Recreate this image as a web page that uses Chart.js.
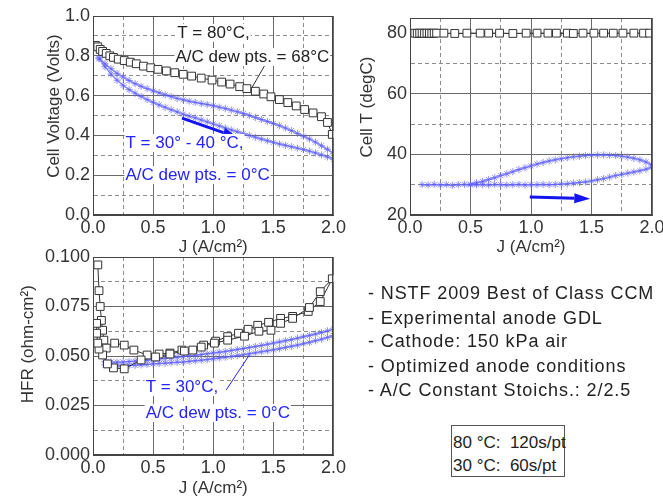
<!DOCTYPE html>
<html>
<head>
<meta charset="utf-8">
<script src="https://cdn.jsdelivr.net/npm/chart.js@4.4.0/dist/chart.umd.min.js"></script>
<style>
  html, body { margin: 0; padding: 0; background: #fff; overflow: hidden; width: 663px; height: 497px; }
  canvas { position: absolute; }
  .note { position: absolute; left: 368px; font: 18px "Liberation Sans", Arial, sans-serif; letter-spacing: 0.9px; color: #222; line-height: 18px; white-space: pre; }
  #box { position: absolute; left: 451px; top: 425px; width: 112px; height: 50px; border: 1px solid #555; }
  .boxline { position: absolute; left: 1px; font: 17px "Liberation Sans", Arial, sans-serif; line-height: 17px; color: #222; white-space: pre; }
</style>
</head>
<body>
<canvas id="cv" width="348" height="258" style="left:0;top:0"></canvas>
<canvas id="ct" width="325" height="258" style="left:345px;top:0"></canvas>
<canvas id="ch" width="348" height="258" style="left:0;top:240px"></canvas>
<div class="note" style="top:284px">- NSTF 2009 Best of Class CCM</div>
<div class="note" style="top:309px">- Experimental anode GDL</div>
<div class="note" style="top:332px">- Cathode: 150 kPa air</div>
<div class="note" style="top:357px">- Optimized anode conditions</div>
<div class="note" style="top:381px">- A/C Constant Stoichs.: 2/2.5</div>
<div id="box">
  <div class="boxline" style="top:8px">80 °C:  120s/pt</div>
  <div class="boxline" style="top:31px">30 °C:  60s/pt</div>
</div>
<script>
// 30-40 C run (blue), current density grid shared by both scan directions
const jBlue = [0.05,0.10,0.15,0.20,0.25,0.30,0.35,0.40,0.45,0.50,0.55,0.60,0.65,0.70,0.75,0.80,0.85,0.90,0.95,1.00,
               1.05,1.10,1.15,1.20,1.25,1.30,1.35,1.40,1.45,1.50,1.55,1.60,1.65,1.70,1.75,1.80,1.85,1.90,1.95,2.00];
const vBlueHi = [0.790,0.760,0.735,0.712,0.693,0.676,0.660,0.647,0.635,0.624,0.614,0.604,0.595,0.586,0.579,0.572,0.566,0.560,0.555,0.549,
                 0.542,0.535,0.527,0.519,0.510,0.500,0.490,0.480,0.470,0.460,0.449,0.437,0.424,0.410,0.396,0.382,0.366,0.348,0.330,0.308];
const vBlueLo = [0.785,0.745,0.708,0.677,0.652,0.630,0.612,0.596,0.580,0.566,0.553,0.541,0.529,0.518,0.507,0.497,0.488,0.478,0.468,0.458,
                 0.448,0.437,0.427,0.418,0.409,0.400,0.391,0.382,0.373,0.365,0.357,0.350,0.343,0.336,0.329,0.321,0.312,0.302,0.292,0.280];
const tBlueLo = [null,30.0,29.9,30.1,29.9,30.0,29.8,30.0,30.1,29.9,30.0,30.0,29.9,30.1,30.0,29.9,30.0,30.1,29.9,30.0,
                 30.0,30.1,30.0,30.1,30.2,30.3,30.5,30.7,30.9,31.2,31.6,32.0,32.5,33.0,33.4,33.8,34.2,34.6,35.1,35.8];
const tBlueHi = [null,null,null,null,null,null,null,null,null,30.2,30.6,31.1,31.7,32.3,33.0,33.6,34.3,35.0,35.6,36.2,
                 36.8,37.3,37.8,38.2,38.6,38.9,39.2,39.4,39.6,39.7,39.8,39.8,39.7,39.6,39.4,39.1,38.7,38.2,37.5,36.5];
const hBlueLo = [null,0.0455,0.0452,0.0450,0.0450,0.0452,0.0453,0.0455,0.0457,0.0460,0.0462,0.0464,0.0466,0.0468,0.0470,0.0473,0.0476,0.0479,0.0482,0.0486,
                 0.0490,0.0494,0.0498,0.0502,0.0506,0.0511,0.0516,0.0521,0.0526,0.0531,0.0537,0.0543,0.0549,0.0555,0.0562,0.0569,0.0577,0.0585,0.0594,0.0603];
const hBlueHi = [null,0.0472,0.0470,0.0469,0.0470,0.0472,0.0474,0.0476,0.0479,0.0482,0.0485,0.0488,0.0491,0.0494,0.0497,0.0500,0.0503,0.0507,0.0511,0.0515,
                 0.0519,0.0523,0.0528,0.0533,0.0538,0.0543,0.0548,0.0553,0.0559,0.0565,0.0571,0.0577,0.0583,0.0590,0.0597,0.0604,0.0611,0.0619,0.0627,0.0636];

// 80 C run (black squares)
const vHotJ = [0.02,0.04,0.06,0.08,0.11,0.14,0.17,0.21,0.26,0.31,0.36,0.42,0.48,0.54,0.61,0.68,0.75,0.82,0.90,0.99,
               1.07,1.14,1.22,1.28,1.35,1.42,1.48,1.55,1.62,1.69,1.76,1.83,1.90,1.95,1.99];
const vHot = [0.852,0.845,0.832,0.822,0.812,0.800,0.792,0.783,0.776,0.768,0.760,0.748,0.740,0.732,0.724,0.715,0.707,0.698,0.688,0.678,
              0.668,0.658,0.645,0.635,0.622,0.608,0.594,0.580,0.565,0.548,0.530,0.513,0.494,0.465,0.405];
const tHotJ = [0.04,0.06,0.08,0.10,0.12,0.14,0.16,0.18,0.20,0.22,0.28,0.37,0.47,0.58,0.65,0.74,0.85,0.96,1.05,1.14,
               1.21,1.30,1.35,1.43,1.52,1.60,1.68,1.76,1.85,1.93,1.98];
const tHot = [80.0,79.9,80.0,80.0,79.9,80.0,80.0,79.9,80.0,80.0,80.0,79.9,80.0,80.0,80.0,80.0,79.9,80.0,80.0,80.0,
              80.0,80.0,79.9,80.0,80.0,80.0,80.0,80.0,80.0,80.0,80.0];
const hHotJ = [0.04,0.05,0.06,0.07,0.08,0.09,0.11,0.18,0.26,0.34,0.45,0.55,0.64,0.74,0.83,0.92,1.02,1.12,1.21,1.29,
               1.37,1.46,1.56,1.66,1.79,1.89,1.99,
               1.89,1.80,1.66,1.56,1.48,1.38,1.26,1.12,1.01,0.90,0.76,0.64,0.52,0.40,0.26,0.17,0.12,0.08,0.05,0.04,0.03,0.03];
const hHot = [0.096,0.083,0.075,0.068,0.063,0.058,0.054,0.0565,0.0555,0.053,0.0505,0.051,0.0515,0.053,0.053,0.0555,0.0575,0.0598,0.0615,0.0635,
              0.0655,0.067,0.069,0.070,0.0725,0.0775,0.089,
              0.0825,0.0745,0.069,0.0665,0.063,0.0625,0.060,0.058,0.0565,0.0545,0.0525,0.051,0.0495,0.048,0.0435,0.044,0.046,0.0505,0.0535,0.0565,0.0615,0.0665];

const FONT = '"Liberation Sans", Arial, sans-serif';
const INK = '#333';
const BLUE_TXT = '#2424ff';
const ARROW = '#1414f0';

function pts(xs, ys) { return xs.map((x, i) => ({ x: x, y: ys[i] })); }

function blueSet(xs, ys) {
  return { data: pts(xs, ys), showLine: true, borderColor: 'rgba(70,70,255,0.6)', borderWidth: 1.5,
    pointStyle: 'star', pointRadius: 3.6, pointBorderColor: 'rgba(95,95,255,0.7)', pointBorderWidth: 1 };
}
function blackSet(xs, ys) {
  return { data: pts(xs, ys), showLine: true, borderColor: '#333', borderWidth: 1,
    pointStyle: 'rect', pointRadius: 5.5, pointBackgroundColor: '#fff', pointBorderColor: '#333', pointBorderWidth: 1 };
}

function axis(o) {
  const isMajor = v => Math.abs(v / o.major - Math.round(v / o.major)) < 1e-6;
  return {
    type: 'linear', min: o.min, max: o.max,
    afterFit: s => { if (s.isHorizontal()) s.height = o.size; else s.width = o.size; },
    ticks: { stepSize: o.step, autoSkip: false, maxRotation: 0, padding: o.pad, color: INK,
      includeBounds: o.bounds !== false, font: { family: FONT, size: 18 },
      callback: v => isMajor(v) ? v.toFixed(o.dec) : '' },
    grid: { drawTicks: false, color: c => (c.tick && isMajor(c.tick.value)) ? '#6a6a6a' : '#8c8c8c' },
    border: { color: '#444', dash: c => (!c.tick || isMajor(c.tick.value) || c.tick.value >= o.max) ? [] : [4, 3] },
    title: { display: true, text: o.title, color: INK, font: { family: FONT, size: 17, lineHeight: 1 }, padding: o.tpad }
  };
}

// frame, leader lines, arrows and labels, placed in data units through the chart scales
const overlay = {
  id: 'overlay',
  afterDatasetsDraw(chart, args, opts) {
    const { ctx, chartArea: a, scales } = chart;
    const px = p => [scales.x.getPixelForValue(p[0]), scales.y.getPixelForValue(p[1])];
    ctx.save();
    ctx.strokeStyle = '#444';
    ctx.lineWidth = 1;
    ctx.strokeRect(Math.round(a.left) + 0.5, Math.round(a.top) + 0.5, Math.round(a.width) - 1, Math.round(a.height) - 1);
    (opts.lines || []).forEach(l => {
      const [x0, y0] = px(l.from), [x1, y1] = px(l.to);
      ctx.strokeStyle = l.color; ctx.lineWidth = 1;
      ctx.beginPath(); ctx.moveTo(x0, y0); ctx.lineTo(x1, y1); ctx.stroke();
    });
    (opts.arrows || []).forEach(ar => {
      const [x0, y0] = px(ar.from), [x1, y1] = px(ar.to);
      const ang = Math.atan2(y1 - y0, x1 - x0), hl = 16, hw = 5;
      const bx = x1 - hl * Math.cos(ang), by = y1 - hl * Math.sin(ang);
      ctx.strokeStyle = ar.color; ctx.fillStyle = ar.color; ctx.lineWidth = 3;
      ctx.beginPath(); ctx.moveTo(x0, y0); ctx.lineTo(bx, by); ctx.stroke();
      ctx.beginPath(); ctx.moveTo(x1, y1);
      ctx.lineTo(bx + hw * Math.sin(ang), by - hw * Math.cos(ang));
      ctx.lineTo(bx - hw * Math.sin(ang), by + hw * Math.cos(ang));
      ctx.closePath(); ctx.fill();
    });
    ctx.font = '17px ' + FONT;
    ctx.textAlign = 'left';
    ctx.textBaseline = 'middle';
    (opts.texts || []).forEach(t => {
      const [x, y] = px(t.at);
      const w = ctx.measureText(t.text).width;
      ctx.fillStyle = '#fff';
      ctx.fillRect(x - 1, y - 9, w + 2, 18);
      ctx.fillStyle = t.color;
      ctx.fillText(t.text, x, y);
    });
    ctx.restore();
  }
};

function base(scales, padding, ov) {
  return {
    responsive: false, animation: false,
    layout: { padding: padding },
    plugins: { legend: { display: false }, tooltip: { enabled: false }, overlay: ov },
    scales: scales
  };
}

new Chart(document.getElementById('cv'), {
  type: 'scatter',
  data: { datasets: [blackSet(vHotJ, vHot), blueSet(jBlue, vBlueHi), blueSet(jBlue, vBlueLo)] },
  options: base({
    x: axis({ min: 0, max: 2, step: 0.25, major: 0.5, dec: 1, size: 43, pad: 2, title: 'J (A/cm²)', tpad: { bottom: 2.5 } }),
    y: axis({ min: 0, max: 1, step: 0.1, major: 0.2, dec: 1, size: 93, pad: 3, title: '    Cell Voltage (Volts)', tpad: { top: 45.5 } })
  }, { top: 16, right: 14 }, {
    texts: [
      { text: 'T = 80°C,', at: [0.70, 0.915], color: '#222' },
      { text: 'A/C dew pts. = 68°C', at: [0.686, 0.794], color: '#222' },
      { text: 'T = 30° - 40 °C,', at: [0.27, 0.362], color: BLUE_TXT },
      { text: 'A/C dew pts. = 0°C', at: [0.27, 0.201], color: BLUE_TXT }
    ],
    lines: [{ from: [1.44, 0.764], to: [1.32, 0.638], color: '#333' }],
    arrows: [{ from: [0.74, 0.487], to: [1.21, 0.387], color: ARROW }]
  }),
  plugins: [overlay]
});

new Chart(document.getElementById('ct'), {
  type: 'scatter',
  data: { datasets: [blackSet(tHotJ, tHot), blueSet(jBlue, tBlueLo), blueSet(jBlue, tBlueHi)] },
  options: base({
    x: axis({ min: 0, max: 2, step: 0.25, major: 0.5, dec: 1, size: 43, pad: 2, title: 'J (A/cm²)', tpad: { bottom: 2.5 } }),
    y: axis({ min: 20, max: 85, step: 10, major: 20, dec: 0, size: 65, pad: 3, bounds: false, title: '    Cell T (degC)', tpad: { top: 13.5 } })
  }, { top: 18, right: 18 }, {
    arrows: [{ from: [0.99, 25.9], to: [1.49, 25.4], color: ARROW }]
  }),
  plugins: [overlay]
});

new Chart(document.getElementById('ch'), {
  type: 'scatter',
  data: { datasets: [blackSet(hHotJ, hHot), blueSet(jBlue, hBlueHi), blueSet(jBlue, hBlueLo)] },
  options: base({
    x: axis({ min: 0, max: 2, step: 0.25, major: 0.5, dec: 1, size: 43, pad: 2, title: 'J (A/cm²)', tpad: { bottom: 1.5 } }),
    y: axis({ min: 0, max: 0.1, step: 0.0125, major: 0.025, dec: 3, size: 93, pad: 3, title: '     HFR (ohm-cm²)', tpad: { top: 19.5 } })
  }, { top: 17, right: 14 }, {
    texts: [
      { text: 'T = 30°C,', at: [0.438, 0.0343], color: BLUE_TXT },
      { text: 'A/C dew pts. = 0°C', at: [0.438, 0.0212], color: BLUE_TXT }
    ],
    lines: [{ from: [1.107, 0.0328], to: [1.30, 0.0505], color: BLUE_TXT }]
  }),
  plugins: [overlay]
});
</script>
</body>
</html>
